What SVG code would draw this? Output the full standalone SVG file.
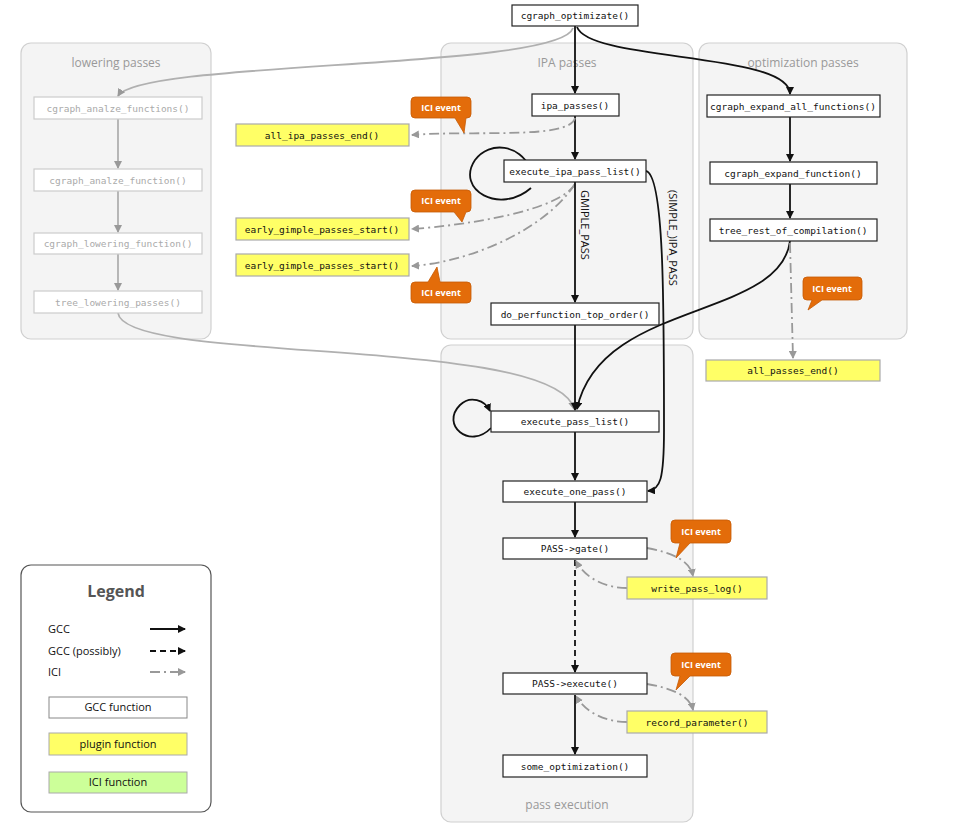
<svg xmlns="http://www.w3.org/2000/svg" width="960" height="840" viewBox="0 0 960 840">
<style>
.panel{fill:#f4f4f4;stroke:#d0d0d0;stroke-width:1.2}
.ptitle{font-family:"Open Sans",sans-serif;font-size:12px;fill:#999;text-anchor:middle}
.n rect{fill:#fff;stroke:#222;stroke-width:1.2}
.n text{font-family:"DejaVu Sans Mono",monospace;font-size:9.5px;fill:#111;text-anchor:middle}
.g rect{fill:#fff;stroke:#ccc;stroke-width:1.2}
.g text{font-family:"DejaVu Sans Mono",monospace;font-size:9.5px;fill:#aaa;text-anchor:middle}
.y rect{fill:#ffff66;stroke:#aaa;stroke-width:1.2}
.y text{font-family:"DejaVu Sans Mono",monospace;font-size:9.5px;fill:#111;text-anchor:middle}
.ici path{fill:#e36c0a;stroke:#c55a05;stroke-width:0.8}
.ici text{font-family:"Open Sans",sans-serif;font-size:9px;font-weight:bold;fill:#fff;text-anchor:middle}
.k{fill:none;stroke:#111;stroke-width:1.8;marker-end:url(#ak)}
.kd{fill:none;stroke:#111;stroke-width:1.8;stroke-dasharray:6,4;marker-end:url(#ak)}
.gr{fill:none;stroke:#b0b0b0;stroke-width:1.8;marker-end:url(#ag)}
.dd{fill:none;stroke:#999;stroke-width:1.8;stroke-dasharray:10,4,2,4;marker-end:url(#ag)}
.lbl{font-family:"Open Sans",sans-serif;font-size:11px;fill:#111}
.leg{font-family:"Open Sans",sans-serif;font-size:11px;fill:#111}
</style>
<defs>
<marker id="ak" markerWidth="8" markerHeight="8" refX="7" refY="4" orient="auto" markerUnits="userSpaceOnUse"><path d="M0,0 L8,4 L0,8 z" fill="#111"/></marker>
<marker id="ag" markerWidth="8" markerHeight="8" refX="7" refY="4" orient="auto" markerUnits="userSpaceOnUse"><path d="M0,0 L8,4 L0,8 z" fill="#999"/></marker>
</defs>
<g id="panels">
<rect class="panel" x="21" y="43" width="190" height="296" rx="10"/>
<text class="ptitle" x="116" y="67">lowering passes</text>
<rect class="panel" x="441" y="43" width="252" height="296" rx="10"/>
<text class="ptitle" x="567" y="67">IPA passes</text>
<rect class="panel" x="699" y="43" width="208" height="296" rx="10"/>
<text class="ptitle" x="803" y="67">optimization passes</text>
<rect class="panel" x="441" y="345" width="252" height="477" rx="10"/>
<text class="ptitle" x="567" y="809">pass execution</text>
</g>
<g id="connectors">
<path class="k" d="M575,26 L575,93"/>
<path class="k" d="M577,27 C590,62 790,52 790,94"/>
<path class="gr" d="M573,28 C560,70 140,60 118,96"/>
<path class="gr" d="M118,119 L118,168"/>
<path class="gr" d="M118,191 L118,232"/>
<path class="gr" d="M118,254 L118,290"/>
<path class="gr" d="M118,313 C125,365 555,335 574,409"/>
<path class="k" d="M575,116 L575,159"/>
<path class="k" d="M531,188 C500,215 455,190 475,160 C490,140 520,145 530,168"/>
<path class="dd" d="M575,118 C570,140 470,130 412,135"/>
<path class="dd" d="M575,184 C560,210 470,225 412,229"/>
<path class="dd" d="M575,184 C545,230 470,262 412,266"/>
<path class="k" d="M575,182 L575,302"/>
<text class="lbl" transform="translate(581,190) rotate(90)">GMIPLE_PASS</text>
<path class="k" d="M646,171 C664,175 664,300 664,430 C664,480 660,490 648,491"/>
<text class="lbl" transform="translate(669,190) rotate(90)">(SIMPLE_)IPA_PASS</text>
<path class="k" d="M790,117 L790,161"/>
<path class="k" d="M790,184 L790,218"/>
<path class="k" d="M790,241 C780,320 600,300 577,409"/>
<path class="dd" d="M790,243 L793,358"/>
<path class="k" d="M575,325 L575,410"/>
<path class="k" d="M491,428 C470,450 440,425 460,405 C470,395 485,400 490,411"/>
<path class="k" d="M575,432 L575,480"/>
<path class="k" d="M575,502 L575,537"/>
<path class="kd" d="M575,560 L575,672"/>
<path class="dd" d="M647,548 C670,552 690,560 693,576"/>
<path class="dd" d="M627,588 C605,588 585,578 576,561"/>
<path class="dd" d="M647,684 C670,688 690,695 693,710"/>
<path class="dd" d="M627,722 C605,722 585,712 576,696"/>
<path class="k" d="M575,695 L575,754"/>
</g>
<g id="cgraph_optimizate" class="n"><rect x="512" y="5" width="126" height="21"/><text x="575" y="19">cgraph_optimizate()</text></g>
<g id="ipa_passes" class="n"><rect x="532" y="94" width="87" height="22"/><text x="575" y="109">ipa_passes()</text></g>
<g id="execute_ipa_pass_list" class="n"><rect x="504" y="160" width="142" height="22"/><text x="575" y="175">execute_ipa_pass_list()</text></g>
<g id="do_perfunction_top_order" class="n"><rect x="491" y="303" width="168" height="22"/><text x="575" y="318">do_perfunction_top_order()</text></g>
<g id="cgraph_expand_all_functions" class="n"><rect x="707" y="95" width="173" height="22"/><text x="793" y="110">cgraph_expand_all_functions()</text></g>
<g id="cgraph_expand_function" class="n"><rect x="710" y="162" width="167" height="22"/><text x="793" y="177">cgraph_expand_function()</text></g>
<g id="tree_rest_of_compilation" class="n"><rect x="710" y="219" width="167" height="22"/><text x="793" y="234">tree_rest_of_compilation()</text></g>
<g id="all_passes_end" class="y"><rect x="706" y="360" width="174" height="21"/><text x="793" y="374">all_passes_end()</text></g>
<g id="cgraph_analze_functions" class="g"><rect x="34" y="97" width="168" height="22"/><text x="118" y="112">cgraph_analze_functions()</text></g>
<g id="cgraph_analze_function" class="g"><rect x="34" y="169" width="168" height="22"/><text x="118" y="184">cgraph_analze_function()</text></g>
<g id="cgraph_lowering_function" class="g"><rect x="34" y="233" width="168" height="21"/><text x="118" y="247">cgraph_lowering_function()</text></g>
<g id="tree_lowering_passes" class="g"><rect x="34" y="291" width="168" height="22"/><text x="118" y="306">tree_lowering_passes()</text></g>
<g id="all_ipa_passes_end" class="y"><rect x="236" y="124" width="173" height="22"/><text x="322" y="139">all_ipa_passes_end()</text></g>
<g id="early_gimple_passes_start_1" class="y"><rect x="236" y="218" width="173" height="22"/><text x="322" y="233">early_gimple_passes_start()</text></g>
<g id="early_gimple_passes_start_2" class="y"><rect x="236" y="254" width="173" height="22"/><text x="322" y="269">early_gimple_passes_start()</text></g>
<g id="ici1" class="ici"><path d="M415,97 H467 Q471,97 471,101 V114 Q471,118 467,118 H466 L464,133 L455,118 H415 Q411,118 411,114 V101 Q411,97 415,97 z"/><text x="441" y="111">ICI event</text></g>
<g id="ici2" class="ici"><path d="M415,190 H467 Q471,190 471,194 V208 Q471,212 467,212 H466 L462,222 L454,212 H415 Q411,212 411,208 V194 Q411,190 415,190 z"/><text x="441" y="204">ICI event</text></g>
<g id="ici3" class="ici"><path d="M415,282 H428 L437,267 L440,282 H467 Q471,282 471,286 V299 Q471,303 467,303 H415 Q411,303 411,299 V286 Q411,282 415,282 z"/><text x="441" y="296">ICI event</text></g>
<g id="ici4" class="ici"><path d="M807,277 H858 Q862,277 862,281 V296 Q862,300 858,300 H822 L808,310 L812,300 H807 Q803,300 803,296 V281 Q803,277 807,277 z"/><text x="832" y="292">ICI event</text></g>
<g id="execute_pass_list" class="n"><rect x="491" y="411" width="168" height="21"/><text x="575" y="425">execute_pass_list()</text></g>
<g id="execute_one_pass" class="n"><rect x="503" y="481" width="144" height="21"/><text x="575" y="495">execute_one_pass()</text></g>
<g id="pass_gate" class="n"><rect x="503" y="538" width="144" height="21"/><text x="575" y="552">PASS-&gt;gate()</text></g>
<g id="write_pass_log" class="y"><rect x="627" y="577" width="140" height="22"/><text x="697" y="592">write_pass_log()</text></g>
<g id="ici5" class="ici"><path d="M675,520 H727 Q731,520 731,524 V539 Q731,543 727,543 H690 L676,558 L680,543 H675 Q671,543 671,539 V524 Q671,520 675,520 z"/><text x="701" y="535">ICI event</text></g>
<g id="pass_execute" class="n"><rect x="503" y="673" width="144" height="21"/><text x="575" y="687">PASS-&gt;execute()</text></g>
<g id="ici6" class="ici"><path d="M675,653 H727 Q731,653 731,657 V672 Q731,676 727,676 H690 L676,690 L680,676 H675 Q671,676 671,672 V657 Q671,653 675,653 z"/><text x="701" y="668">ICI event</text></g>
<g id="record_parameter" class="y"><rect x="627" y="711" width="140" height="22"/><text x="697" y="726">record_parameter()</text></g>
<g id="some_optimization" class="n"><rect x="503" y="755" width="144" height="22"/><text x="575" y="770">some_optimization()</text></g>
<g id="legend">
<rect x="21" y="565" width="190" height="247" rx="10" fill="#fff" stroke="#555" stroke-width="1.2"/>
<text x="116" y="597" font-family="Open Sans, sans-serif" font-size="16" font-weight="bold" fill="#555" text-anchor="middle">Legend</text>
<text class="leg" x="48" y="633">GCC</text>
<path class="k" d="M150,629 L185,629"/>
<text class="leg" x="48" y="655">GCC (possibly)</text>
<path class="kd" d="M150,651 L185,651"/>
<text class="leg" x="48" y="676">ICI</text>
<path class="dd" d="M150,672 L185,672"/>
<rect x="49" y="697" width="138" height="21" fill="#fff" stroke="#888"/>
<text class="leg" x="118" y="711" text-anchor="middle">GCC function</text>
<rect x="49" y="733" width="138" height="22" fill="#ffff66" stroke="#aaa"/>
<text class="leg" x="118" y="748" text-anchor="middle">plugin function</text>
<rect x="49" y="772" width="138" height="21" fill="#ccff99" stroke="#aaa"/>
<text class="leg" x="118" y="786" text-anchor="middle">ICI function</text>
</g>
</svg>
